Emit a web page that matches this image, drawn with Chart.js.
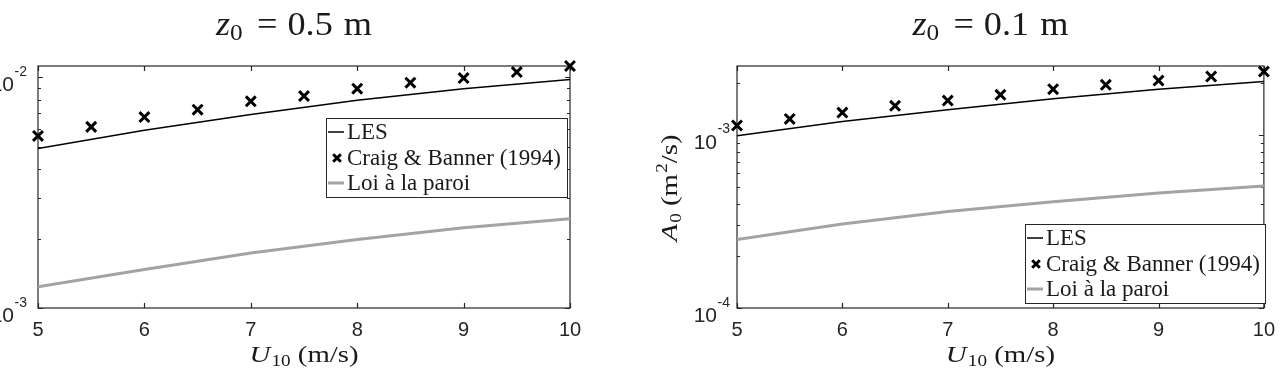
<!DOCTYPE html>
<html><head><meta charset="utf-8">
<script src="https://cdn.jsdelivr.net/npm/chart.js@4.4.1/dist/chart.umd.min.js"></script>
<style>
html,body{margin:0;padding:0;background:#fff;}
#wrap{position:relative;width:1285px;height:376px;overflow:hidden;background:#fff;}
canvas{position:absolute;top:0;}
</style></head><body>
<div id="wrap">
<canvas id="c1" width="640" height="376" style="left:0"></canvas>
<canvas id="c2" width="645" height="376" style="left:640px"></canvas>
</div>
<script>
// ---------- data ----------
const windSpeeds = [5, 6, 7, 8, 9, 10];
const craigSpeeds = [5, 5.5, 6, 6.5, 7, 7.5, 8, 8.5, 9, 9.5, 10];
const xTickValues = [5, 6, 7, 8, 9, 10];
const seriesLabels = ['LES', 'Craig & Banner (1994)', 'Loi à la paroi'];

// z0 = 0.5 m
const les05   = [0.00491, 0.0059, 0.0069, 0.00795, 0.00893, 0.0098];
const craig05 = [0.00557, 0.0061, 0.00673, 0.00724, 0.00787, 0.0083, 0.00893, 0.00948, 0.00993, 0.01054, 0.0112];
const loi05   = [0.001236, 0.00147, 0.00173, 0.00198, 0.00223, 0.00244];

// z0 = 0.1 m
const les01   = [0.000987, 0.001194, 0.001396, 0.001615, 0.001837, 0.002033];
const craig01 = [0.001133, 0.001237, 0.001346, 0.001472, 0.001578, 0.001703, 0.001837, 0.001947, 0.002061, 0.002174, 0.002322];
const loi01   = [0.000249, 0.000306, 0.000361, 0.000411, 0.000461, 0.000507];

// ---------- helpers ----------
const SERIF = '"Liberation Serif","Times New Roman",serif';
const SANS = '"Liberation Sans",Arial,sans-serif';
const AX = '#262626';

function runsWidth(ctx, runs){
  let w = 0;
  for (const r of runs){ ctx.font = r.f; w += (r.gl||0) + ctx.measureText(r.t).width + (r.gr||0); }
  return w;
}
function drawRuns(ctx, runs, x, y, align, sx){
  sx = sx || 1;
  const w = runsWidth(ctx, runs);
  ctx.save();
  ctx.translate(x, y);
  ctx.scale(sx, 1);
  let cx = align === 'center' ? -w/2 : (align === 'right' ? -w : 0);
  ctx.textAlign = 'left'; ctx.textBaseline = 'alphabetic';
  for (const r of runs){
    ctx.font = r.f; cx += (r.gl||0);
    ctx.fillText(r.t, cx, (r.dy||0));
    cx += ctx.measureText(r.t).width + (r.gr||0);
  }
  ctx.restore();
}
function pts(xs, ys){ return xs.map((x,i)=>({x:x, y:ys[i]})); }

function makePlugin(cfg){
  return {
    id: 'matlabLook',
    beforeDatasetsDraw(chart){
      const ctx = chart.ctx, a = chart.chartArea;
      const xs = chart.scales.x, ys = chart.scales.y;
      ctx.save();
      ctx.strokeStyle = AX; ctx.lineWidth = 1.2;
      ctx.strokeRect(a.left, a.top, a.right - a.left, a.bottom - a.top);
      ctx.beginPath();
      for (const v of xTickValues){
        const px = Math.round(xs.getPixelForValue(v)) + 0.5;
        ctx.moveTo(px, a.bottom); ctx.lineTo(px, a.bottom - 5);
        ctx.moveTo(px, a.top); ctx.lineTo(px, a.top + 5);
      }
      const e0 = Math.floor(Math.log10(cfg.yMin)), e1 = Math.ceil(Math.log10(cfg.yMax));
      for (let e = e0; e <= e1; e++){
        for (let m = 1; m <= 9; m++){
          const v = m * Math.pow(10, e);
          if (v < cfg.yMin*0.999 || v > cfg.yMax*1.001) continue;
          const py = Math.round(ys.getPixelForValue(v)) + 0.5;
          const len = m === 1 ? 5 : 3;
          ctx.moveTo(a.left, py); ctx.lineTo(a.left + len, py);
          ctx.moveTo(a.right, py); ctx.lineTo(a.right - len, py);
        }
      }
      ctx.stroke();
      ctx.restore();
    },
    afterDatasetsDraw(chart){
      const ctx = chart.ctx, L = cfg.legend;
      ctx.save();
      ctx.fillStyle = '#fff';
      ctx.fillRect(L.x, L.y, L.w, L.h);
      ctx.strokeStyle = AX; ctx.lineWidth = 1;
      ctx.strokeRect(L.x + 0.5, L.y + 0.5, L.w, L.h);
      const rows = [L.y + 14, L.y + 40, L.y + 65];
      ctx.strokeStyle = '#000'; ctx.lineWidth = 1.5;
      ctx.beginPath(); ctx.moveTo(L.x + 2, rows[0]); ctx.lineTo(L.x + 18, rows[0]); ctx.stroke();
      ctx.lineWidth = 3; ctx.beginPath();
      const mx = L.x + 11, my = rows[1], r = 3.8;
      ctx.moveTo(mx - r, my - r); ctx.lineTo(mx + r, my + r);
      ctx.moveTo(mx - r, my + r); ctx.lineTo(mx + r, my - r); ctx.stroke();
      ctx.strokeStyle = '#a3a3a3'; ctx.lineWidth = 3;
      ctx.beginPath(); ctx.moveTo(L.x + 2, rows[2]); ctx.lineTo(L.x + 18, rows[2]); ctx.stroke();
      ctx.fillStyle = '#1a1a1a';
      ctx.font = '23px ' + SERIF; ctx.textBaseline = 'middle'; ctx.textAlign = 'left';
      seriesLabels.forEach((t, i) => ctx.fillText(t, L.x + 21, rows[i] + 1));
      ctx.restore();
    },
    afterDraw(chart){
      const ctx = chart.ctx, a = chart.chartArea, ys = chart.scales.y;
      ctx.save();
      ctx.fillStyle = AX;
      const e0 = Math.ceil(Math.log10(cfg.yMin) - 1e-9), e1 = Math.floor(Math.log10(cfg.yMax) + 1e-9);
      for (let e = e0; e <= e1; e++){
        const py = ys.getPixelForValue(Math.pow(10, e));
        const rightEdge = a.left - cfg.labelGap;
        ctx.font = '14px ' + SANS;
        const ew = ctx.measureText('-' + Math.abs(e)).width;
        ctx.textAlign = 'left'; ctx.textBaseline = 'alphabetic';
        ctx.fillText('-' + Math.abs(e), rightEdge - ew, py - 1.5);
        ctx.font = '21px ' + SANS; ctx.textAlign = 'right';
        ctx.fillText('10', rightEdge - ew - 0.5, py + 14);
      }
      ctx.fillStyle = '#1a1a1a';
      const cx = (a.left + a.right) / 2;
      drawRuns(ctx, [
        {t:'z', f:'italic 33px ' + SERIF},
        {t:'0', f:'23px ' + SERIF, dy:5, gr:4},
        {t:'=', f:'33px ' + SERIF, gl:9, gr:9},
        {t:cfg.z0, f:'33px ' + SERIF, gr:10},
        {t:'m', f:'33px ' + SERIF}
      ], cx - 10, 35, 'center', 1.1);
      drawRuns(ctx, [
        {t:'U', f:'italic 24px ' + SERIF, gr:1},
        {t:'10', f:'16px ' + SERIF, dy:4, gr:6},
        {t:'(m/s)', f:'24px ' + SERIF}
      ], cx, 362, 'center', 1.2);
      if (cfg.yTitle){
        ctx.translate(cfg.yTitle.x, cfg.yTitle.y);
        ctx.rotate(-Math.PI/2);
        drawRuns(ctx, [
          {t:'A', f:'italic 24px ' + SERIF, gr:1},
          {t:'0', f:'16px ' + SERIF, dy:4, gr:6},
          {t:'(m', f:'24px ' + SERIF, gr:1},
          {t:'2', f:'16px ' + SERIF, dy:-10},
          {t:'/s)', f:'24px ' + SERIF}
        ], 0, 0, 'center', 1.2);
      }
      ctx.restore();
    }
  };
}

function makeChart(cfg){
  const el = document.getElementById(cfg.canvas);
  return new Chart(el, {
    type: 'scatter',
    data: {
      datasets: [
        {label: seriesLabels[1], data: pts(craigSpeeds, cfg.craig), showLine: false,
         pointStyle: 'crossRot', pointRadius: 7, pointBorderWidth: 3,
         pointBorderColor: '#000', pointBackgroundColor: '#000', borderColor: '#000', clip: false, order: 0},
        {label: seriesLabels[0], data: pts(windSpeeds, cfg.les), showLine: true,
         borderColor: '#000', borderWidth: 1.5, pointRadius: 0, order: 1},
        {label: seriesLabels[2], data: pts(windSpeeds, cfg.loi), showLine: true,
         borderColor: '#a3a3a3', borderWidth: 3, pointRadius: 0, order: 2}
      ]
    },
    options: {
      responsive: false, animation: false, devicePixelRatio: 1,
      layout: {padding: {top: 66, right: cfg.padR, left: 0, bottom: 0}},
      plugins: {legend: {display: false}, tooltip: {enabled: false}, title: {display: false}},
      events: [],
      scales: {
        x: {type: 'linear', min: 5, max: 10,
            grid: {display: false, drawTicks: false}, border: {display: false},
            ticks: {stepSize: 1, color: AX, padding: 10, font: {family: SANS, size: 20}},
            afterFit: s => { s.height = 68; }},
        y: {type: 'logarithmic', min: cfg.yMin, max: cfg.yMax,
            grid: {display: false, drawTicks: false}, border: {display: false},
            ticks: {display: false},
            afterFit: s => { s.width = cfg.yW; }}
      }
    },
    plugins: [makePlugin(cfg)]
  });
}

makeChart({canvas: 'c1', yW: 38, padR: 70, yMin: 1e-3, yMax: 0.0112, labelGap: 11,
  les: les05, craig: craig05, loi: loi05, z0: '0.5',
  legend: {x: 326, y: 118, w: 241, h: 79}, yTitle: null});
makeChart({canvas: 'c2', yW: 97, padR: 17, yMin: 1e-4, yMax: 0.0025, labelGap: 7,
  les: les01, craig: craig01, loi: loi01, z0: '0.1',
  legend: {x: 385, y: 224, w: 240, h: 79}, yTitle: {x: 37, y: 188}});
</script>
</body></html>
